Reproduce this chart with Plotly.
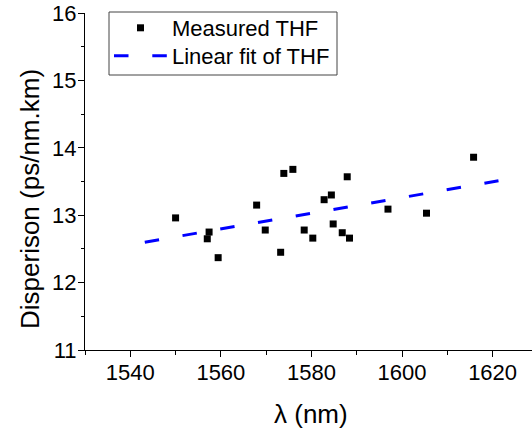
import plotly.graph_objects as go

# Measured THF data (wavelength nm, dispersion ps/nm.km)
wavelength = [1550.0, 1557.4, 1557.0, 1559.4, 1567.9, 1569.8, 1573.2, 1573.9,
              1575.9, 1578.4, 1580.3, 1582.8, 1584.4, 1584.8, 1586.8, 1587.9,
              1588.4, 1596.9, 1605.4, 1615.8]
dispersion = [12.96, 12.75, 12.65, 12.37, 13.15, 12.78, 12.45, 13.62,
              13.68, 12.78, 12.66, 13.23, 13.30, 12.87, 12.74, 13.57,
              12.66, 13.09, 13.03, 13.86]

# Linear fit endpoints
fit_x = [1543.2, 1621.3]
fit_y = [12.60, 13.51]

x_ticks = [1540, 1560, 1580, 1600, 1620]
y_ticks = [11, 12, 13, 14, 15, 16]

FONT = "Liberation Sans, Arial, sans-serif"

W, H = 532, 429
L, R, T, B = 85, 0, 13, 429 - 350
pw, ph = W - L - R, H - T - B


def px_x(wx):
    return (wx - L) / pw


def px_y(wy):
    return (H - B - wy) / ph


fig = go.Figure()
fig.add_trace(go.Scatter(
    x=wavelength, y=dispersion, mode="markers", name="Measured THF",
    marker=dict(symbol="square", size=7, color="black"), legend="legend",
))
fig.add_trace(go.Scatter(
    x=fit_x, y=fit_y, mode="lines", name="Linear fit of THF",
    line=dict(color="#0000FF", width=3, dash="14.5px,23.8px"), legend="legend2",
))

leg_common = dict(
    xanchor="left", yanchor="middle", bgcolor="rgba(0,0,0,0)", borderwidth=0,
    font=dict(family=FONT, size=22, color="black"), itemwidth=53,
)

fig.update_layout(
    width=W, height=H,
    margin=dict(l=L, r=R, t=T, b=B, pad=0),
    paper_bgcolor="white", plot_bgcolor="white",
    font=dict(family=FONT, size=22, color="black"),
    showlegend=True,
    legend=dict(x=px_x(109), y=px_y(28), **leg_common),
    legend2=dict(x=px_x(109), y=px_y(56), **leg_common),
    shapes=[dict(type="rect", xref="paper", yref="paper",
                 x0=px_x(109), x1=px_x(337), y0=px_y(75), y1=px_y(12),
                 line=dict(color="#444", width=1), fillcolor="rgba(0,0,0,0)",
                 layer="below")],
    xaxis=dict(
        range=[1530, 1628.7], tickmode="array", tickvals=x_ticks,
        ticktext=[str(v) for v in x_ticks],
        showline=True, linecolor="black", linewidth=1, mirror=False,
        ticks="outside", ticklen=6, tickwidth=1, tickcolor="black",
        showgrid=False, zeroline=False, automargin=False,
        tickfont=dict(family=FONT, size=22), ticklabelstandoff=-3,
        ticklabeloverflow="allow",
        minor=dict(ticks="outside", ticklen=3.5, tickwidth=1, tickcolor="black",
                   tickmode="linear", tick0=1530, dtick=10, showgrid=False),
    ),
    yaxis=dict(
        range=[11, 16], tickmode="array", tickvals=y_ticks,
        ticktext=[str(v) for v in y_ticks],
        showline=True, linecolor="black", linewidth=1, mirror=False,
        ticks="outside", ticklen=6, tickwidth=1, tickcolor="black",
        showgrid=False, zeroline=False, automargin=False,
        tickfont=dict(family=FONT, size=22), ticklabelstandoff=-3,
        ticklabeloverflow="allow",
        minor=dict(ticks="outside", ticklen=3.5, tickwidth=1, tickcolor="black",
                   tickmode="linear", tick0=11, dtick=0.5, showgrid=False),
    ),
    annotations=[
        dict(text="λ (nm)", xref="paper", yref="paper",
             x=px_x(311), y=px_y(414), xanchor="center", yanchor="middle",
             showarrow=False, font=dict(family=FONT, size=26, color="black")),
        dict(text="Disperison (ps/nm.km)", xref="paper", yref="paper",
             x=px_x(30), y=px_y(199), xanchor="center", yanchor="middle",
             textangle=-90, showarrow=False,
             font=dict(family=FONT, size=26, color="black")),
    ],
)

fig.write_html("out.html", config={"displayModeBar": False},
               post_script="document.body.style.margin='0';")
